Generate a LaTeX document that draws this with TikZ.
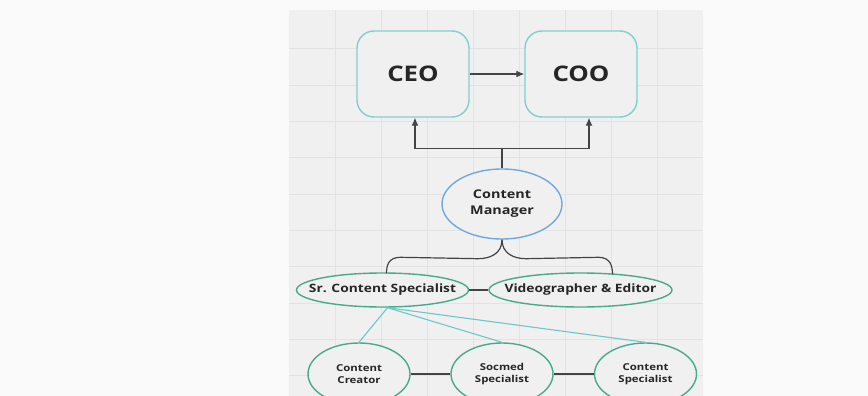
\documentclass[tikz,border=0pt]{standalone}
\usepackage{fontspec}
\setmainfont{Open Sans}[FakeStretch=1.2]
\usetikzlibrary{shapes.geometric,arrows.meta,calc}
\definecolor{paper}{HTML}{FAFAFA}
\definecolor{panel}{HTML}{F0F0F0}
\definecolor{gridgray}{HTML}{E3E3E3}
\definecolor{boxteal}{HTML}{80CFCF}
\definecolor{mgrblue}{HTML}{6FA8DC}
\definecolor{staffgreen}{HTML}{48AA8C}
\definecolor{linkteal}{HTML}{6CC8C8}
\definecolor{linegray}{HTML}{444444}
\definecolor{textgray}{HTML}{262626}
\tikzset{
  gridline/.style={gridgray, line width=0.8pt},
  rolebox/.style={draw=boxteal, line width=1.4pt, rounded corners=17pt, fill=panel,
    minimum width=112pt, minimum height=86pt, text=textgray,
    font=\bfseries\fontsize{21.5}{24}\selectfont},
  mgroval/.style={ellipse, draw=mgrblue, line width=1.4pt, fill=panel, inner sep=0pt,
    minimum width=120pt, minimum height=70pt, align=center, text=textgray,
    font=\bfseries\fontsize{12}{16}\selectfont},
  leadoval/.style={ellipse, draw=staffgreen, line width=1.4pt, fill=panel,
    inner xsep=-30pt, inner ysep=0pt, minimum height=34pt, text=textgray,
    font=\bfseries\fontsize{11.5}{14}\selectfont},
  staffoval/.style={ellipse, draw=staffgreen, line width=1.4pt, fill=panel, inner sep=0pt,
    minimum width=102pt, minimum height=62pt, align=center, text=textgray,
    font=\bfseries\fontsize{9.5}{12}\selectfont},
  arrowline/.style={linegray, line width=1.2pt, -{Latex[length=8pt,width=7pt]}},
  plainline/.style={linegray, line width=1.2pt},
  tealline/.style={linkteal, line width=1.1pt}
}
\begin{document}
\begin{tikzpicture}[x=1pt,y=-1pt]
    \clip (0,0) rectangle (868,396);
    \fill[paper] (0,0) rectangle (868,396);
    \fill[panel] (289,10) rectangle (703,396);
    \foreach \x in {1,...,8}
    {
      \pgfmathsetmacro\gx{289+46*\x}
      \draw[gridline] (\gx,10) -- (\gx,396);
    }
    \foreach \y in {1,...,10}
    {
      \pgfmathsetmacro\gy{12.5+36.3*\y}
      \draw[gridline] (289,\gy) -- (703,\gy);
    }
    \node[rolebox] (ceo) at (413,74) {CEO};
    \node[rolebox] (coo) at (581,74) {COO};
    \node[mgroval] (cm) at (502,204) {Content\\Manager};
    \node[leadoval, minimum width=172pt] (sr) at (382.5,290) {Sr. Content Specialist};
    \node[leadoval, minimum width=183pt] (vid) at (580.5,290) {Videographer \& Editor};
    \node[staffoval] (cc) at (359,374) {Content\\Creator};
    \node[staffoval] (sm) at (502,374) {Socmed\\Specialist};
    \node[staffoval] (cs) at (645.5,374) {Content\\Specialist};
    \draw[arrowline] (ceo.east) -- (coo.west);
    \draw[arrowline] (cm.north) -- ++(0,-20) -| ($(ceo.south)+(2,0)$);
    \draw[arrowline] (cm.north) -- ++(0,-20) -| ($(coo.south)+(8,0)$);
    \draw[plainline] (cm.south) .. controls +(0,14) and +(12,0) .. ($(cm.south)+(-24,19)$)
      -- ($(sr.north)+(18,-15)$) .. controls +(-12,0) and +(0,-8) .. ($(sr.north)+(4,1)$);
    \draw[plainline] (cm.south) .. controls +(0,14) and +(-12,0) .. ($(cm.south)+(24,19)$)
      -- ($(vid.north)+(18,-15)$) .. controls +(12,0) and +(0,-8) .. ($(vid.north)+(32,2)$);
    \draw[plainline] (sr.east) -- (vid.west);
    \coordinate (srfoot) at ($(sr.south)+(5,0)$);
    \draw[tealline] (srfoot) -- (cc.north);
    \draw[tealline] (srfoot) -- (sm.north);
    \draw[tealline] (srfoot) -- (cs.north);
    \draw[plainline] (cc.east) -- (sm.west);
    \draw[plainline] (sm.east) -- (cs.west);
\end{tikzpicture}
\end{document}
